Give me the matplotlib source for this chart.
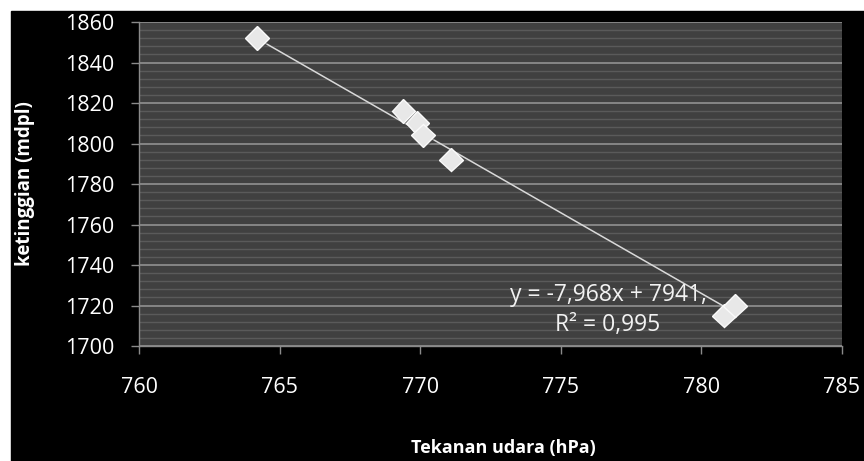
import matplotlib
matplotlib.use('Agg')
import matplotlib.pyplot as plt
import matplotlib.patheffects as pe
from matplotlib.patches import Rectangle
from matplotlib.ticker import MultipleLocator

# pengukuran tekanan udara vs ketinggian
tekanan = [764.2, 769.4, 769.9, 770.1, 771.1, 780.8, 781.2]
ketinggian = [1852, 1816, 1810, 1804, 1792, 1715, 1720]

# persamaan garis tren (regresi linier)
slope = -7.968
intercept = 7941
r2 = 0.995
label_persamaan = 'y = -7,968x + 7941,'
label_r2 = 'R² = 0,995'

plt.rcParams['font.family'] = ['Open Sans', 'DejaVu Sans']

W, H = 864, 461
fig = plt.figure(figsize=(W / 100, H / 100), dpi=100, facecolor='white')
fig.patches.append(Rectangle((11 / W, 0), 1 - 11 / W, 1 - 11 / H,
                             transform=fig.transFigure, color='black', zorder=-10))

ax = fig.add_axes([139 / W, 1 - 346 / H, 703 / W, 324 / H])
ax.set_facecolor('#404040')
ax.set_xlim(760, 785)
ax.set_ylim(1700, 1860)
ax.xaxis.set_major_locator(MultipleLocator(5))
ax.yaxis.set_major_locator(MultipleLocator(20))
ax.yaxis.set_minor_locator(MultipleLocator(4))

ax.grid(True, which='major', axis='y', color='#858585', lw=1.4, zorder=1)
ax.grid(True, which='minor', axis='y', color='#5a5a5a', lw=1.0, zorder=1)
ax.set_axisbelow(True)

for s in ['top', 'right']:
    ax.spines[s].set_visible(False)
for s in ['left', 'bottom']:
    ax.spines[s].set_color('#8a8a8a')
    ax.spines[s].set_linewidth(1.0)

ax.tick_params(axis='both', which='major', length=6, width=1, color='#8a8a8a',
               labelcolor='white', labelsize=15.5)
ax.tick_params(axis='y', which='minor', length=0)
ax.tick_params(axis='y', pad=12)
ax.tick_params(axis='x', pad=16)

# garis tren
xs = [min(tekanan), max(tekanan)]
ys = [slope * x + intercept for x in xs]
ax.plot(xs, ys, color='#d9d9d9', lw=1.1, zorder=3)

# titik data
ax.plot(tekanan, ketinggian, linestyle='none', marker='D', ms=12,
        markerfacecolor='#e8e8e8', markeredgecolor='#fafafa', markeredgewidth=1,
        zorder=4,
        path_effects=[pe.SimplePatchShadow(offset=(1.5, -1.5), alpha=0.5), pe.Normal()])

ax.text(776.68, 1725.2, label_persamaan, color='#f2f2f2', fontsize=16.5,
        ha='center', va='center', zorder=5)
ax.text(776.68, 1710.4, label_r2, color='#f2f2f2', fontsize=16.5,
        ha='center', va='center', zorder=5)

fig.text(25 / W, 1 - 184 / H, 'ketinggian (mdpl)', rotation=90, color='white',
         fontsize=13.5, fontweight='bold', ha='center', va='center')
fig.text(503 / W, 1 - 448 / H, 'Tekanan udara (hPa)', color='white',
         fontsize=13, fontweight='bold', ha='center', va='center')

fig.savefig('out.png', dpi=100, facecolor=fig.get_facecolor())
